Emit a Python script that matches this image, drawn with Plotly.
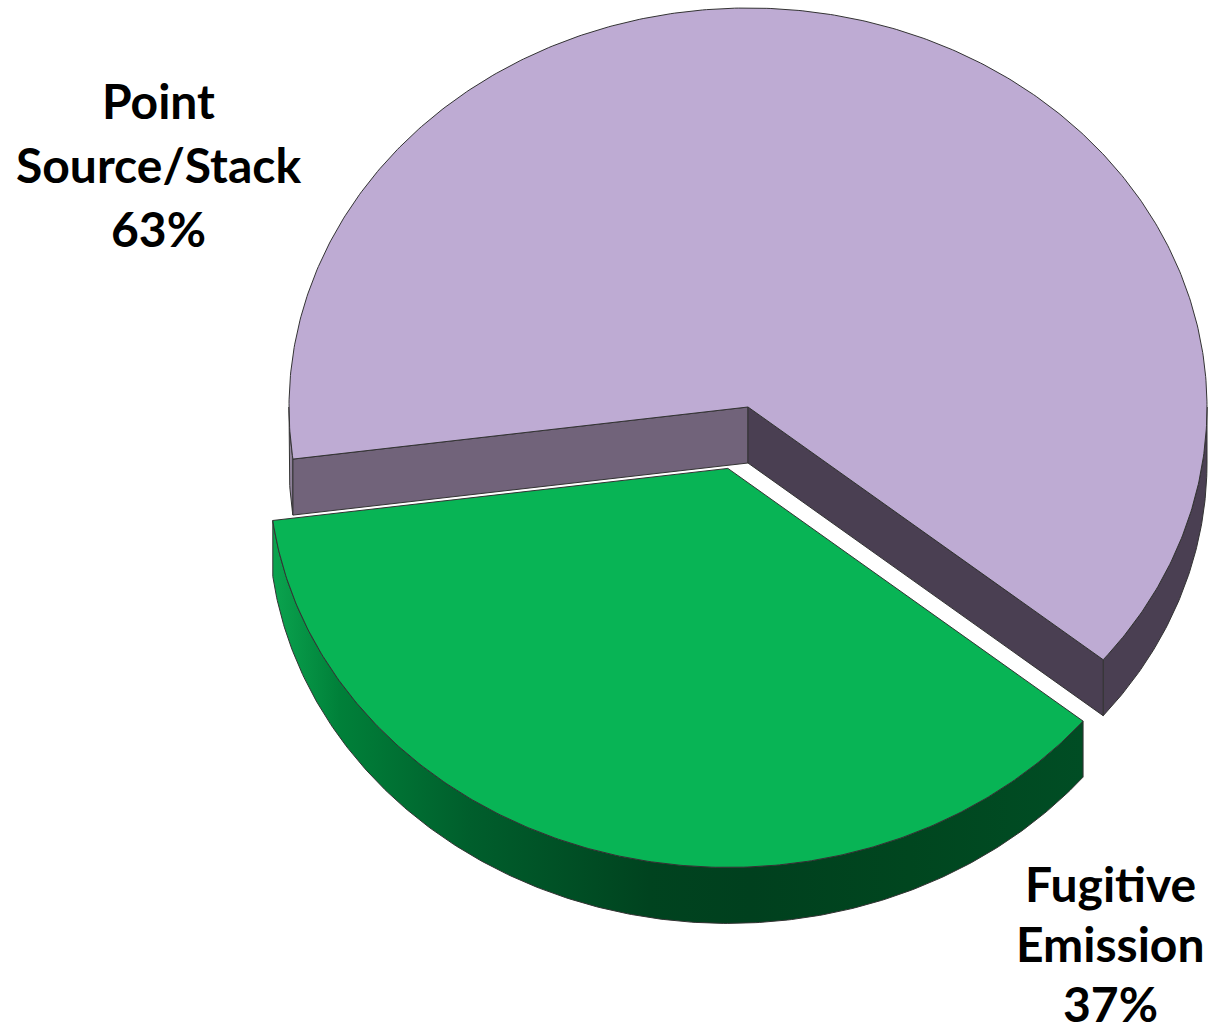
import numpy as np
import plotly.graph_objects as go

# ---- data ----
labels = ["Point Source/Stack", "Fugitive Emission"]
values = [63, 37]
explode = [0.0, 0.16]

# ---- styles ----
top_colors = ["#BEABD3", "#08B455"]
start_wall_colors = ["#71637A", "#006A30"]
end_wall_colors = ["#4A3F52", "#00401E"]
# horizontal gradients spanning the full width of each slice's ellipse
rim_scales = [
    [[0, "#9A8CA5"], [0.01, "#6E6078"], [0.05, "#4A3F52"], [1, "#4A3F52"]],
    [[0, "#0BA650"], [0.077, "#008039"], [0.219, "#005E2C"], [0.415, "#00431F"],
     [0.524, "#00401E"], [0.698, "#00461F"], [0.886, "#004D24"], [1, "#004D24"]],
]
outline = dict(color="#333333", width=1)

W, H = 1212, 1035
CX, CY, RX, RY, DEPTH = 748, 407, 459, 399, 56
START = 172.5  # first slice start angle (degrees, clockwise on screen from 3 o'clock)

fig = go.Figure()


def arc(a0, a1, ox, oy, dz=0.0, n=None):
    if n is None:
        n = max(8, int(abs(a1 - a0) * 2))
    t = np.radians(np.linspace(a0, a1, n))
    return CX + ox + RX * np.cos(t), CY + oy + RY * np.sin(t) + dz


def poly(x, y, color=None, gradient=None):
    kw = dict(x=list(x) + [x[0]], y=list(y) + [y[0]], mode="lines", fill="toself",
              line=outline, hoverinfo="skip", showlegend=False, fillcolor=color)
    if gradient is not None:
        kw["fillgradient"] = gradient
    fig.add_trace(go.Scatter(**kw))


total = sum(values)
angle = START
for i, (lab, v) in enumerate(zip(labels, values)):
    a0 = angle
    a1 = angle + v / total * 360.0
    angle = a1
    mid = np.radians((a0 + a1) / 2)
    ox = explode[i] * RX * np.cos(mid)
    oy = explode[i] * RY * np.sin(mid)
    ax, ay = CX + ox, CY + oy

    # outer rim (front half only)
    parts = []
    for k in range(-1, 3):
        lo, hi = max(a0, 360 * k), min(a1, 360 * k + 180)
        if hi > lo:
            parts.append((lo, hi))
    for lo, hi in parts:
        xt, yt = arc(lo, hi, ox, oy)
        xb, yb = arc(hi, lo, ox, oy, DEPTH)
        xs = np.concatenate([xt, xb])
        ys = np.concatenate([yt, yb])
        grad = dict(type="horizontal", colorscale=rim_scales[i],
                    start=float(CX + ox - RX), stop=float(CX + ox + RX))
        poly(xs, ys, color=rim_scales[i][-1][1], gradient=grad)

    # radial walls
    for a, col, sign in ((a0, start_wall_colors[i], -1), (a1, end_wall_colors[i], 1)):
        if np.sin(np.radians(a + sign * 90)) > 0:
            ex = ax + RX * np.cos(np.radians(a))
            ey = ay + RY * np.sin(np.radians(a))
            poly([ax, ex, ex, ax], [ay, ey, ey + DEPTH, ay + DEPTH], color=col)

    # top face
    xt, yt = arc(a0, a1, ox, oy)
    poly(np.concatenate([[ax], xt]), np.concatenate([[ay], yt]), color=top_colors[i])

# ---- labels ----
label_pos = [(158, 100, 64), (1110, 883, 60)]
for (lx, ly, gap), lab, v in zip(label_pos, labels, values):
    lines = lab.split(" ") + [f"{v}%"]
    for j, txt in enumerate(lines):
        fig.add_annotation(x=lx, y=ly + j * gap, xref="x", yref="y", text=txt,
                           showarrow=False, xanchor="center", yanchor="middle",
                           font=dict(family="Lato", size=48, color="black", weight="bold"))

fig.update_xaxes(range=[0, W], visible=False, fixedrange=True)
fig.update_yaxes(range=[H, 0], visible=False, fixedrange=True)
fig.update_layout(width=W, height=H, margin=dict(l=0, r=0, t=0, b=0),
                  plot_bgcolor="white", paper_bgcolor="white", showlegend=False)
fig.write_html("out.html")
